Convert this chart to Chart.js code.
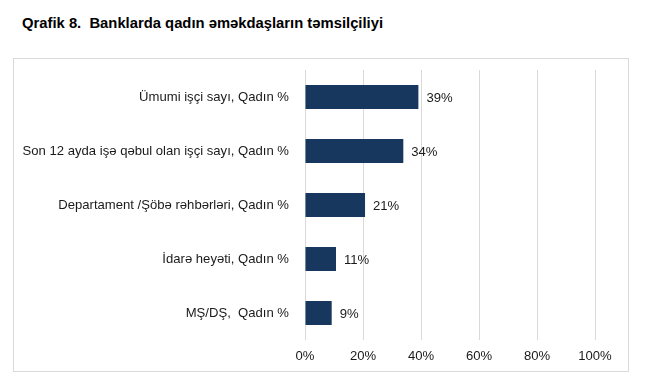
<!DOCTYPE html>
<html lang="az">
<head>
  <meta charset="UTF-8" />
  <title>Qrafik 8</title>
  <script src="https://cdn.jsdelivr.net/npm/chart.js"></script>
  <style>
    body { margin: 0; background: #fff; font-family: "Liberation Sans", Arial, sans-serif; }
    #title { position: absolute; left: 22px; top: 15px; font-size: 14.8px; font-weight: bold; color: #000; }
    #frame { position: absolute; left: 13px; top: 58px; width: 614px; height: 312px; border: 1px solid #d9d9d9; }
  </style>
</head>
<body>

  <div id="title">Qrafik 8.&nbsp; Banklarda qadın əməkdaşların təmsilçiliyi</div>
  <div id="frame"><canvas id="chart" width="614" height="312"></canvas></div>

<script>
  const categories = [
    'Ümumi işçi sayı, Qadın %',
    'Son 12 ayda işə qəbul olan işçi sayı, Qadın %',
    'Departament /Şöbə rəhbərləri, Qadın %',
    'İdarə heyəti, Qadın %',
    'MŞ/DŞ,  Qadın %'
  ];
  const values = [39.1, 33.9, 20.7, 10.7, 9.2];
  const xTicks = [0, 20, 40, 60, 80, 100];

  const font = { family: '"Liberation Sans", Arial, sans-serif', size: 13.1 };

  // yazılar barın sonunda
  const barLabels = {
    id: 'barLabels',
    afterDatasetsDraw(chart) {
      const ctx = chart.ctx;
      const meta = chart.getDatasetMeta(0);
      ctx.save();
      ctx.font = `${font.size}px ${font.family}`;
      ctx.fillStyle = '#1a1a1a';
      ctx.textBaseline = 'middle';
      ctx.textAlign = 'left';
      meta.data.forEach((bar, i) => {
        ctx.fillText(Math.round(values[i]) + '%', bar.x + 8, bar.y + 1);
      });
      ctx.restore();
    }
  };

  new Chart(document.getElementById('chart'), {
    type: 'bar',
    data: {
      labels: categories,
      datasets: [{
        data: values,
        backgroundColor: '#17375E',
        borderWidth: 0,
        categoryPercentage: 1,
        barPercentage: 0.444
      }]
    },
    options: {
      indexAxis: 'y',
      responsive: false,
      animation: false,
      layout: { padding: { top: 11, right: 33, left: 0, bottom: 0 } },
      plugins: {
        legend: { display: false },
        tooltip: { enabled: false }
      },
      scales: {
        x: {
          min: 0,
          max: 100,
          afterBuildTicks(scale) { scale.ticks = xTicks.map(v => ({ value: v })); },
          afterFit(scale) {
            scale.height = 31;
            scale.paddingLeft = 0;
            scale.paddingRight = 0;
          },
          grid: { color: '#d9d9d9', drawTicks: false },
          border: { display: false },
          ticks: {
            callback: v => v + '%',
            color: '#1a1a1a',
            font,
            padding: 9
          }
        },
        y: {
          afterFit(scale) {
            scale.width = 291;
            scale.paddingTop = 0;
            scale.paddingBottom = 0;
          },
          grid: { display: false, drawTicks: false },
          border: { display: false },
          ticks: { color: '#1a1a1a', font, padding: 16 }
        }
      }
    },
    plugins: [barLabels]
  });
</script>

</body>
</html>
